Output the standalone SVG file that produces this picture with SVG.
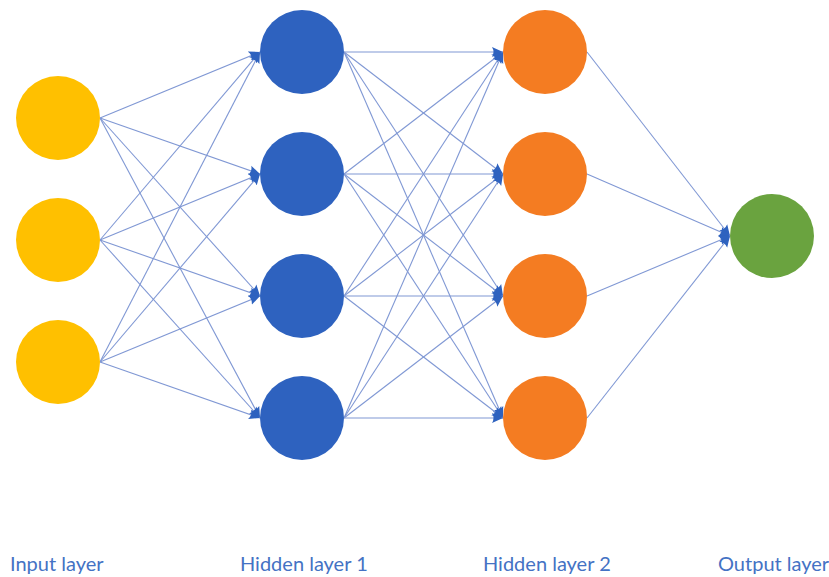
<svg xmlns="http://www.w3.org/2000/svg" width="829" height="577" viewBox="0 0 829 577">
<style>
.c{stroke:#8098d4;stroke-width:1.1;fill:none;marker-end:url(#ah)}
.in{fill:#FFC000}.h1{fill:#2E62BF}.h2{fill:#F47C22}.out{fill:#6AA33F}
.lbl{font-family:Lato,"Open Sans","Liberation Sans",sans-serif;font-size:20px;fill:#4472C4}
</style>
<defs>
<marker id="ah" markerUnits="userSpaceOnUse" markerWidth="12" markerHeight="12" refX="11" refY="6" orient="auto">
<path d="M0,1 L11,6 L0,11 Q3,6 0,1 z" fill="#2E62BF"/>
</marker>
</defs>
<rect width="829" height="577" fill="#fff"/>
<g id="connectors">
<line class="c" x1="100" y1="118" x2="260" y2="52"/>
<line class="c" x1="100" y1="118" x2="260" y2="174"/>
<line class="c" x1="100" y1="118" x2="260" y2="296"/>
<line class="c" x1="100" y1="118" x2="260" y2="418"/>
<line class="c" x1="100" y1="240" x2="260" y2="52"/>
<line class="c" x1="100" y1="240" x2="260" y2="174"/>
<line class="c" x1="100" y1="240" x2="260" y2="296"/>
<line class="c" x1="100" y1="240" x2="260" y2="418"/>
<line class="c" x1="100" y1="362" x2="260" y2="52"/>
<line class="c" x1="100" y1="362" x2="260" y2="174"/>
<line class="c" x1="100" y1="362" x2="260" y2="296"/>
<line class="c" x1="100" y1="362" x2="260" y2="418"/>
<line class="c" x1="344" y1="52" x2="503" y2="52"/>
<line class="c" x1="344" y1="52" x2="503" y2="174"/>
<line class="c" x1="344" y1="52" x2="503" y2="296"/>
<line class="c" x1="344" y1="52" x2="503" y2="418"/>
<line class="c" x1="344" y1="174" x2="503" y2="52"/>
<line class="c" x1="344" y1="174" x2="503" y2="174"/>
<line class="c" x1="344" y1="174" x2="503" y2="296"/>
<line class="c" x1="344" y1="174" x2="503" y2="418"/>
<line class="c" x1="344" y1="296" x2="503" y2="52"/>
<line class="c" x1="344" y1="296" x2="503" y2="174"/>
<line class="c" x1="344" y1="296" x2="503" y2="296"/>
<line class="c" x1="344" y1="296" x2="503" y2="418"/>
<line class="c" x1="344" y1="418" x2="503" y2="52"/>
<line class="c" x1="344" y1="418" x2="503" y2="174"/>
<line class="c" x1="344" y1="418" x2="503" y2="296"/>
<line class="c" x1="344" y1="418" x2="503" y2="418"/>
<line class="c" x1="587" y1="52" x2="730" y2="236"/>
<line class="c" x1="587" y1="174" x2="730" y2="236"/>
<line class="c" x1="587" y1="296" x2="730" y2="236"/>
<line class="c" x1="587" y1="418" x2="730" y2="236"/>
</g>
<g id="in1"><circle class="in" cx="58" cy="118" r="42"/></g>
<g id="in2"><circle class="in" cx="58" cy="240" r="42"/></g>
<g id="in3"><circle class="in" cx="58" cy="362" r="42"/></g>
<g id="h1a"><circle class="h1" cx="302" cy="52" r="42"/></g>
<g id="h1b"><circle class="h1" cx="302" cy="174" r="42"/></g>
<g id="h1c"><circle class="h1" cx="302" cy="296" r="42"/></g>
<g id="h1d"><circle class="h1" cx="302" cy="418" r="42"/></g>
<g id="h2a"><circle class="h2" cx="545" cy="52" r="42"/></g>
<g id="h2b"><circle class="h2" cx="545" cy="174" r="42"/></g>
<g id="h2c"><circle class="h2" cx="545" cy="296" r="42"/></g>
<g id="h2d"><circle class="h2" cx="545" cy="418" r="42"/></g>
<g id="out"><circle class="out" cx="772" cy="236" r="42"/></g>
<g id="labels">
<text class="lbl" x="10" y="571">Input layer</text>
<text class="lbl" x="240" y="571">Hidden layer 1</text>
<text class="lbl" x="483" y="571">Hidden layer 2</text>
<text class="lbl" x="718" y="571">Output layer</text>
</g>
</svg>
